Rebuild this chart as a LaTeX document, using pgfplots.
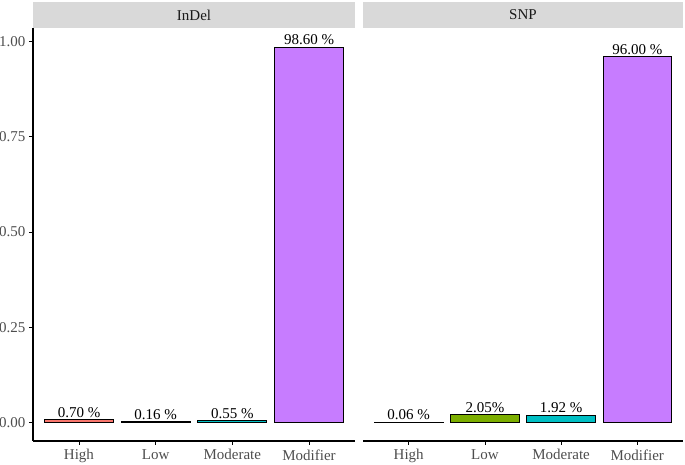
\documentclass[border=0pt]{standalone}
\usepackage{pgfplots}
\pgfplotsset{compat=1.18}
\usepackage{fontspec}
\setmainfont{Liberation Serif}

\definecolor{cHigh}{HTML}{F8766D}
\definecolor{cLow}{HTML}{7CAE00}
\definecolor{cMod}{HTML}{00BFC4}
\definecolor{cModif}{HTML}{C77CFF}
\definecolor{stripgray}{HTML}{D9D9D9}
\definecolor{tickgray}{HTML}{4D4D4D}

\newcommand{\tfont}{\fontsize{15}{17}\selectfont}

\pgfplotsset{
  panel/.style={
    scale only axis,
    height=413pt,
    anchor=south west,
    xmin=0.4, xmax=4.6,
    ymin=-0.049, ymax=1.036,
    xtick={1,2,3,4},
    xticklabels={High,Low,Moderate,Modifier},
    axis x line*=bottom,
    tick align=outside,
    major tick length=4pt,
    tick style={black, line width=0.8pt},
    axis line style={black, line width=1.1pt},
    ticklabel style={font=\tfont, text=tickgray},
    xticklabel style={yshift=-1pt},
    every node near coord/.append style={font=\tfont, text=black, anchor=south, inner sep=1.5pt},
    clip=false,
  },
  bar/.style={ybar, bar width=0.9, bar shift=0pt, draw=black, line width=0.9pt, fill=#1},
}

\begin{document}
\begin{tikzpicture}
\useasboundingbox (0,0) rectangle (685pt,465pt);

% InDel panel
\begin{axis}[panel, at={(33pt,24pt)}, width=322pt,
    axis y line*=left,
    ytick={0,0.25,0.5,0.75,1},
    yticklabels={0.00,0.25,0.50,0.75,1.00}]
\addplot[bar=cHigh, nodes near coords={0.70 \%}] coordinates {(1,0.0070)};
\addplot[bar=white, nodes near coords={0.16 \%}] coordinates {(2,0.0016)};
\addplot[bar=cMod, nodes near coords={0.55 \%}] coordinates {(3,0.0055)};
\addplot[bar=cModif, nodes near coords={98.60 \%}] coordinates {(4,0.9860)};
\end{axis}

% SNP panel
\begin{axis}[panel, at={(363pt,24pt)}, width=320pt,
    axis y line=none, ytick=\empty]
\addplot[bar=cHigh, nodes near coords={0.06 \%}] coordinates {(1,0.0006)};
\addplot[bar=cLow, nodes near coords={2.05\%}] coordinates {(2,0.0205)};
\addplot[bar=cMod, nodes near coords={1.92 \%}] coordinates {(3,0.0192)};
\addplot[bar=cModif, nodes near coords={96.00 \%}] coordinates {(4,0.9600)};
\end{axis}

% facet strips
\fill[stripgray] (33pt,437pt) rectangle (355pt,463pt);
\node[font=\fontsize{15}{17}\selectfont, text=black!90] at (194pt,450pt) {InDel};
\fill[stripgray] (363pt,437pt) rectangle (683pt,463pt);
\node[font=\fontsize{15}{17}\selectfont, text=black!90] at (523pt,450pt) {SNP};
\end{tikzpicture}
\end{document}
